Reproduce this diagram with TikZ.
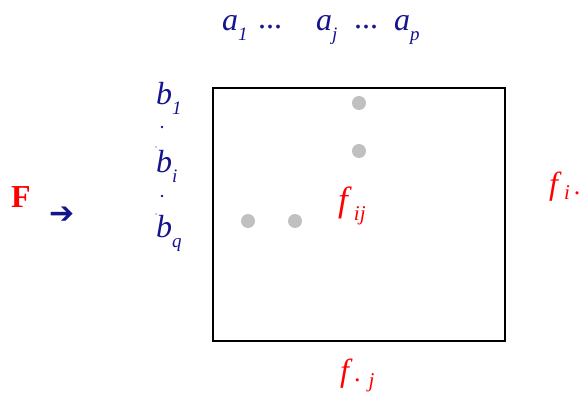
\documentclass[tikz,border=0pt]{standalone}
\usepackage{fontspec}
\setmainfont{Liberation Serif}
\newfontfamily\symfont{DejaVu Sans Bold}
\definecolor{navy}{RGB}{20,20,140}
\definecolor{dotgray}{RGB}{192,192,192}
\newcommand{\lowsub}[3][19]{\raisebox{-#2pt}{\fontsize{#1}{#1}\selectfont #3}}
\tikzset{
  lbl/.style={inner sep=0pt, anchor=base west, text=navy, font=\fontsize{32}{32}\selectfont\itshape},
  rlbl/.style={inner sep=0pt, anchor=base west, text=red, font=\fontsize{35}{35}\selectfont\itshape},
  gdot/.style={circle, fill=dotgray, minimum size=14pt, inner sep=0pt},
  rdot/.style={circle, fill=navy, inner sep=0pt},
  frame/.style={draw=black, line width=1.5pt}
}
\begin{document}
\begin{tikzpicture}[x=1pt,y=-1pt]
\useasboundingbox (0,0) rectangle (586,393);
% frame
\coordinate (tl) at (213,88);
\coordinate (br) at (505,341);
\draw[frame] (tl) rectangle (br);
% column labels
\node[lbl] (a1) at (222,31) {a\lowsub{10}{1}};
\node[lbl] (dA) at (258,29) {\upshape ...};
\node[lbl] (aj) at (316,31) {a\lowsub{10}{j}};
\node[lbl] (dB) at (354,29) {\upshape ...};
\node[lbl] (ap) at (394,31) {a\lowsub{10}{p}};
% row labels
\node[lbl] (b1) at (156,105) {b\lowsub{10}{1}};
\node[lbl] (bi) at (156,172) {b\lowsub{10}{i}};
\node[lbl] (bq) at (156,237) {b\lowsub{10}{q}};
\node[rdot, minimum size=2.8pt] (r1) at (162,127) {};
\node[rdot, minimum size=1.4pt] (r2) at (156,147) {};
\node[rdot, minimum size=2.8pt] (r3) at (162,196) {};
\node[rdot, minimum size=1.4pt] (r4) at (156,214) {};
% F and arrow
\node[inner sep=0pt, anchor=base west, text=red, font=\fontsize{32}{32}\selectfont\bfseries] (F) at (11,207) {F};
\node[inner sep=0pt, anchor=base west, text=navy, font=\fontsize{30}{30}\selectfont\symfont] (arr) at (49,223) {➔};
% gray points
\node[gdot] (p1) at (359,103) {};
\node[gdot] (p2) at (359,151) {};
\node[gdot] (p3) at (248,221) {};
\node[gdot] (p4) at (295,221) {};
% frequencies
\node[rlbl] (fij) at (338,211) {f\hspace{6pt}\lowsub[21]{9}{ij}};
\node[rlbl, font=\fontsize{32}{32}\selectfont\itshape] (fdj) at (340,381) {f\hspace{5pt}{\fontsize{26}{26}\selectfont\upshape .}\hspace{8pt}\lowsub[21]{6}{j}};
\node[rlbl, font=\fontsize{32}{32}\selectfont\itshape] (fid) at (549,194) {f\hspace{6pt}\lowsub[21]{5}{i}\hspace{4pt}{\fontsize{26}{26}\selectfont\upshape .}};
\end{tikzpicture}
\end{document}
